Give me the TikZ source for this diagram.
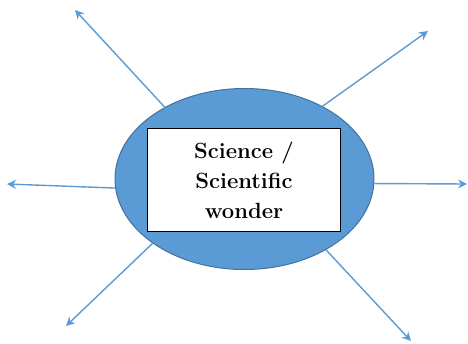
\documentclass[tikz,border=0pt]{standalone}
\usetikzlibrary{shapes.geometric,arrows.meta}
\definecolor{offblue}{HTML}{5B9BD5}
\definecolor{offedge}{HTML}{41719C}
\tikzset{
  blob/.style={ellipse, draw=offedge, line width=1pt, fill=offblue, minimum width=259pt, minimum height=181pt, inner sep=0pt},
  label box/.style={draw=black, line width=1.5pt, fill=white, minimum width=193pt, minimum height=103pt, align=center, inner sep=0pt, font=\bfseries\fontsize{22}{30}\selectfont},
  ray/.style={draw=offblue, line width=1.4pt, -{Stealth[length=9pt,width=9pt,inset=3pt]}}
}
\begin{document}
\begin{tikzpicture}[x=1pt,y=-1pt]
\useasboundingbox (0,0) rectangle (468,343);
\node[blob] (e) at (244.5,179) {};
\node[label box] (b) at (244,180) {Science /\\Scientific\\wonder};
\coordinate (t1) at (75,10);
\coordinate (t2) at (428,31);
\coordinate (t3) at (7,184);
\coordinate (t4) at (467,184);
\coordinate (t5) at (66,326);
\coordinate (t6) at (411,341);
\draw[ray] (e.138) -- (t1);
\draw[ray] (e.43) -- (t2);
\draw[ray] (e.184.5) -- (t3);
\draw[ray] (e.358) -- (t4);
\draw[ray] (e.215.5) -- (t5);
\draw[ray] (e.319) -- (t6);
\end{tikzpicture}
\end{document}
